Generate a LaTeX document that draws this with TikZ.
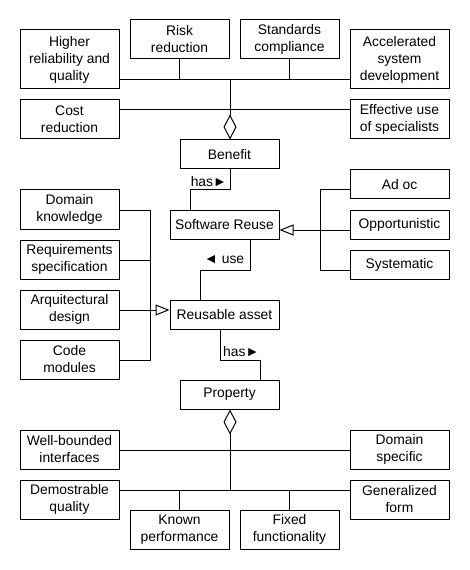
\documentclass[tikz,border=0pt]{standalone}
\usepackage{fontspec}
\setmainfont{Liberation Sans}
\usetikzlibrary{arrows.meta}

\tikzset{
  item/.style={draw, line width=0.75pt, align=center, inner sep=1pt,
    minimum width=74.25pt, minimum height=21.75pt,
    font=\fontsize{10.4pt}{12.75pt}\selectfont},
  item2/.style={item, minimum height=29.25pt},
  item3/.style={item, minimum height=44.25pt},
  wideitem/.style={item, minimum width=81.75pt},
  link/.style={line width=0.75pt},
  inherit/.style={link, -{Triangle[open, length=10.5pt, width=8.25pt]}},
  agg/.style={link, {Diamond[open, length=18.75pt, width=9.75pt]}-},
  role/.style={font=\fontsize{10.4pt}{12pt}\selectfont, inner sep=2pt}
}

\begin{document}
\begin{tikzpicture}[x=0.75pt, y=-0.75pt]
  \useasboundingbox (0,0) rectangle (470,570);

  % Define nodes
  \node[item3] (high)  at (69.5,59.5)  {Higher\\reliability and\\quality};
  \node[item2] (risk)  at (179.5,39.5) {Risk\\reduction};
  \node[item2] (std)   at (289.5,39.5) {Standards\\compliance};
  \node[item3] (accel) at (399.5,59.5) {Accelerated\\system\\development};
  \node[item2] (cost)  at (69.5,119.5) {Cost\\reduction};
  \node[item2] (eff)   at (399.5,119.5) {Effective use\\of specialists};
  \node[item]  (benefit) at (229.5,154.5) {Benefit};

  \node[wideitem] (reuse) at (224.5,224.5) {Software Reuse};
  \node[item] (adoc) at (399.5,184.5) {Ad oc};
  \node[item] (opp)  at (399.5,224.5) {Opportunistic};
  \node[item] (sys)  at (399.5,264.5) {Systematic};

  \node[item2] (dom)  at (69.5,209.5) {Domain\\knowledge};
  \node[item2] (req)  at (69.5,259.5) {Requirements\\specification};
  \node[item2] (arq)  at (69.5,309.5) {Arquitectural\\design};
  \node[item2] (code) at (69.5,359.5) {Code\\modules};
  \node[wideitem] (asset) at (224.5,314.5) {Reusable asset};

  \node[item]  (prop)  at (229.5,394.5) {Property};
  \node[item2] (well)  at (69.5,449.5)  {Well-bounded\\interfaces};
  \node[item2] (dspec) at (399.5,449.5) {Domain\\specific};
  \node[item2] (demo)  at (69.5,499.5)  {Demostrable\\quality};
  \node[item2] (known) at (179.5,529.5) {Known\\performance};
  \node[item2] (fixed) at (289.5,529.5) {Fixed\\functionality};
  \node[item2] (gen)   at (399.5,499.5) {Generalized\\form};

  % Bends and buses
  \coordinate (bhub)  at (230,80);
  \coordinate (bhub2) at (230,110);
  \coordinate (hasfoot) at (190,190);
  \coordinate (ttop) at (320,190);
  \coordinate (tmid) at (320,230);
  \coordinate (tbot) at (320,270);
  \coordinate (ktop) at (150,210);
  \coordinate (kreq) at (150,260);
  \coordinate (kmid) at (150,310);
  \coordinate (kbot) at (150,360);
  \coordinate (usebend) at (250,270);
  \coordinate (usefoot) at (200,270);
  \coordinate (propbend) at (220,360);
  \coordinate (propfoot) at (260,360);
  \coordinate (phub)  at (230,450);
  \coordinate (phub2) at (230,490);

  % Connect the nodes
  \draw[link] (high.east |- bhub) -- (accel.west |- bhub);
  \draw[link] (risk.south) -- (risk.south |- bhub);
  \draw[link] (std.south) -- (std.south |- bhub);
  \draw[link] (cost.east |- bhub2) -- (eff.west |- bhub2);
  \draw[agg] (bhub |- benefit.north) -- (bhub);

  \draw[link] (bhub |- benefit.south) |- node[role, pos=0.5, anchor=south east] {has►}
    (hasfoot) -- (hasfoot |- reuse.north);

  \draw[link] (adoc.west |- ttop) -- (ttop) -- (tbot) -- (sys.west |- tbot);
  \draw[inherit] (opp.west |- tmid) -- (reuse.east |- tmid);

  \draw[link] (dom.east |- ktop) -- (ktop) -- (kbot) -- (code.east |- kbot);
  \draw[link] (req.east |- kreq) -- (kreq);
  \draw[inherit] (arq.east |- kmid) -- (asset.west |- kmid);

  \draw[link] (reuse.south -| usebend) -- (usebend)
    node[role, anchor=south east, inner sep=4pt] {◄ use}
    -- (usefoot) -- (usefoot |- asset.north);

  \draw[link] (asset.south -| propbend) -- (propbend)
    node[role, anchor=south west] {has►}
    -- (propfoot) -- (propfoot |- prop.north);

  \draw[agg] (phub |- prop.south) -- (phub2);
  \draw[link] (well.east |- phub) -- (dspec.west |- phub);
  \draw[link] (demo.east |- phub2) -- (gen.west |- phub2);
  \draw[link] (known.north) -- (known.north |- phub2);
  \draw[link] (fixed.north) -- (fixed.north |- phub2);

\end{tikzpicture}
\end{document}
